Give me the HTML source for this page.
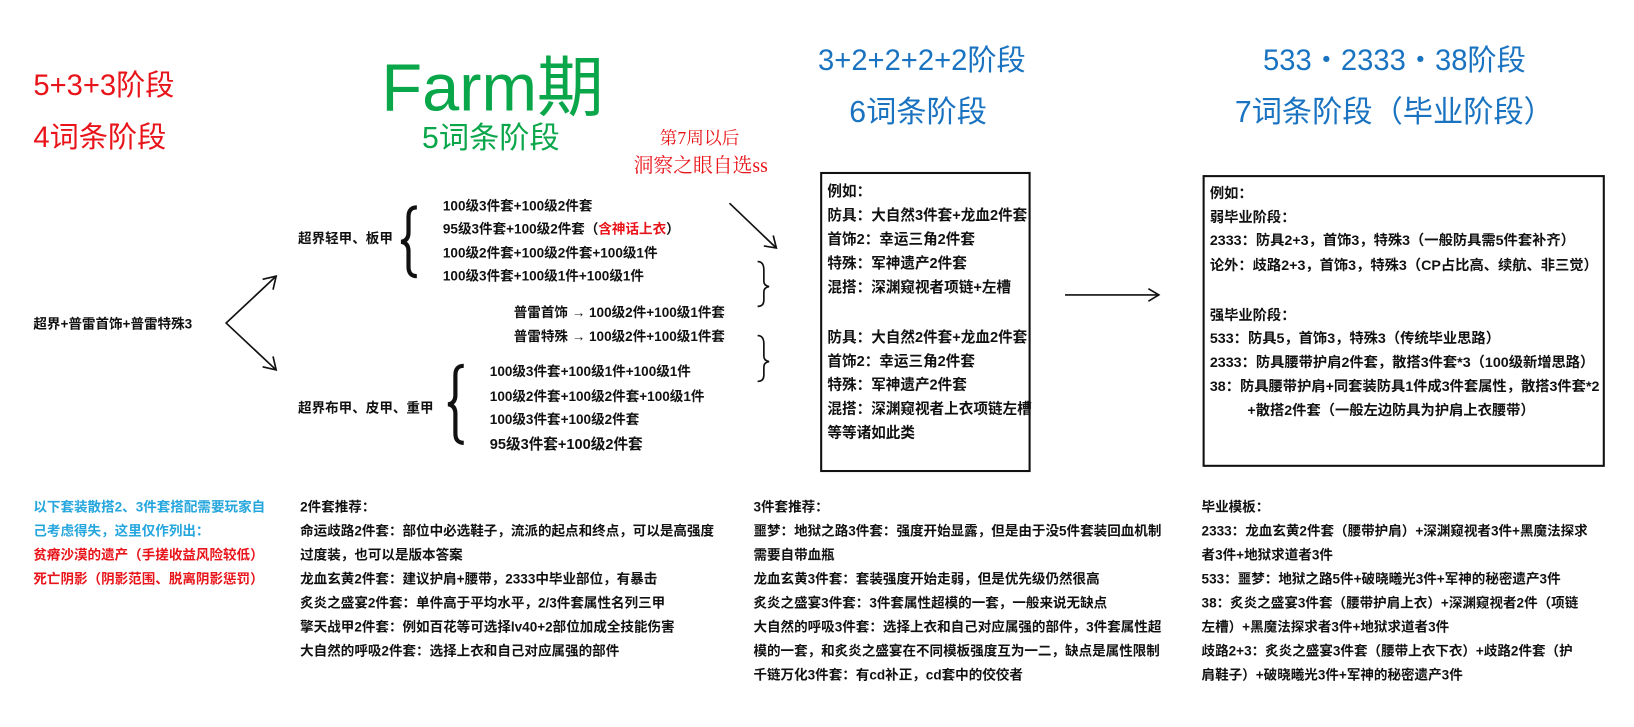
<!DOCTYPE html>
<html><head><meta charset="utf-8"><style>
body{margin:0;width:1634px;height:727px;background:#fff;position:relative;overflow:hidden;font-family:"Liberation Sans","Noto Sans CJK SC",sans-serif;}
#w{position:absolute;left:0;top:0;width:1568px;height:698px;transform:scale(1.0421);transform-origin:0 0;}
.t{position:absolute;white-space:nowrap;line-height:1;}
.s{font-size:13px;font-weight:bold;color:#111;}
.b1{font-size:14px}
.b2{font-size:13.7px}
.r{color:#e8141a}.g{color:#0aa64a}.b{color:#1a73c0}.cy{color:#25a6dd}
.box{position:absolute;border:2px solid #111;}
</style></head><body><div id="w">
<div class="t r" style="left:32px;top:68px;font-size:28px">5+3+3阶段</div>
<div class="t r" style="left:32px;top:118px;font-size:28px">4词条阶段</div>
<div class="t g" style="left:366px;top:52px;font-size:64px">Farm期</div>
<div class="t g" style="left:405px;top:119px;font-size:29px">5词条阶段</div>
<div class="t r" style="left:633px;top:124px;font-size:17px;font-family:'Liberation Serif','Noto Serif CJK SC',serif">第7周以后</div>
<div class="t r" style="left:608px;top:150px;font-size:19px;font-family:'Liberation Serif','Noto Serif CJK SC',serif">洞察之眼自选ss</div>
<div class="t b" style="left:785px;top:44px;font-size:28px">3+2+2+2+2阶段</div>
<div class="t b" style="left:815px;top:94px;font-size:29px">6词条阶段</div>
<div class="t b" style="left:1212px;top:44px;font-size:28px">533・2333・38阶段</div>
<div class="t b" style="left:1185px;top:94px;font-size:29px">7词条阶段（毕业阶段）</div>

<svg style="position:absolute;left:0;top:0" width="1568" height="698">
<g stroke="#111" stroke-width="1.6" fill="none">
<polyline points="265,265 217,310 265,355"/>
<polyline points="252,268 265,265 262,278"/>
<polyline points="252,352 265,355 262,342"/>
<line x1="700" y1="195" x2="745" y2="238"/>
<polyline points="733,236 745,238 742,226"/>
<line x1="1022" y1="283" x2="1112" y2="283"/>
<polyline points="1102,277 1112,283 1102,289"/>
<path d="M727,251 q6,0 6,8 v11 q0,4 5,5 q-5,1 -5,5 v8 q0,6 -6,6"/>
<path d="M727,322 q6,0 6,8 v12 q0,4 5,5 q-5,1 -5,5 v8 q0,6 -6,6"/>
</g>
<g fill="none" stroke="#111" stroke-width="4">
<path d="M400,199 q-8,0 -8,9 v15 q0,8 -7,9 q7,1 7,9 v15 q0,9 8,9"/>
<path d="M445,351 q-8,0 -8,9 v19 q0,8 -7,9 q7,1 7,9 v19 q0,9 8,9"/>
</g>
</svg>

<div class="t s" style="left:32px;top:304px">超界+普雷首饰+普雷特殊3</div>
<div class="t s" style="left:286px;top:222px">超界轻甲、板甲</div>
<div class="t s" style="left:425px;top:191px">100级3件套+100级2件套</div>
<div class="t s" style="left:425px;top:213px">95级3件套+100级2件套（<span class="r">含神话上衣</span>）</div>
<div class="t s" style="left:425px;top:236px">100级2件套+100级2件套+100级1件</div>
<div class="t s" style="left:425px;top:258px">100级3件套+100级1件+100级1件</div>
<div class="t s" style="left:493px;top:293px">普雷首饰 → 100级2件+100级1件套</div>
<div class="t s" style="left:493px;top:316px">普雷特殊 → 100级2件+100级1件套</div>
<div class="t s" style="left:286px;top:385px">超界布甲、皮甲、重甲</div>
<div class="t s" style="left:470px;top:350px">100级3件套+100级1件+100级1件</div>
<div class="t s" style="left:470px;top:374px">100级2件套+100级2件套+100级1件</div>
<div class="t s" style="left:470px;top:396px">100级3件套+100级2件套</div>
<div class="t s" style="left:470px;top:419px;font-size:14px">95级3件套+100级2件套</div>

<div class="box" style="left:787px;top:165px;width:198px;height:284px"></div>
<div class="t s b1" style="left:794px;top:176px">例如：</div>
<div class="t s b1" style="left:794px;top:199px">防具：大自然3件套+龙血2件套</div>
<div class="t s b1" style="left:794px;top:222px">首饰2：幸运三角2件套</div>
<div class="t s b1" style="left:794px;top:245px">特殊：军神遗产2件套</div>
<div class="t s b1" style="left:794px;top:268px">混搭：深渊窥视者项链+左槽</div>
<div class="t s b1" style="left:794px;top:316px">防具：大自然2件套+龙血2件套</div>
<div class="t s b1" style="left:794px;top:339px">首饰2：幸运三角2件套</div>
<div class="t s b1" style="left:794px;top:362px">特殊：军神遗产2件套</div>
<div class="t s b1" style="left:794px;top:385px">混搭：深渊窥视者上衣项链左槽</div>
<div class="t s b1" style="left:794px;top:408px">等等诸如此类</div>

<div class="box" style="left:1154px;top:168px;width:382px;height:276px"></div>
<div class="t s b2" style="left:1161px;top:179px">例如：</div>
<div class="t s b2" style="left:1161px;top:202px">弱毕业阶段：</div>
<div class="t s b2" style="left:1161px;top:224px">2333：防具2+3，首饰3，特殊3（一般防具需5件套补齐）</div>
<div class="t s b2" style="left:1161px;top:248px">论外：歧路2+3，首饰3，特殊3（CP占比高、续航、非三觉）</div>
<div class="t s b2" style="left:1161px;top:296px">强毕业阶段：</div>
<div class="t s b2" style="left:1161px;top:318px">533：防具5，首饰3，特殊3（传统毕业思路）</div>
<div class="t s b2" style="left:1161px;top:341px">2333：防具腰带护肩2件套，散搭3件套*3（100级新增思路）</div>
<div class="t s b2" style="left:1161px;top:364px">38：防具腰带护肩+同套装防具1件成3件套属性，散搭3件套*2</div>
<div class="t s b2" style="left:1197px;top:387px">+散搭2件套（一般左边防具为护肩上衣腰带）</div>

<div class="t s cy" style="left:32px;top:480px">以下套装散搭2、3件套搭配需要玩家自</div>
<div class="t s cy" style="left:32px;top:503px">己考虑得失，这里仅作列出：</div>
<div class="t s r" style="left:32px;top:526px">贫瘠沙漠的遗产（手搓收益风险较低）</div>
<div class="t s r" style="left:32px;top:549px">死亡阴影（阴影范围、脱离阴影惩罚）</div>

<div class="t s" style="left:288px;top:480px">2件套推荐：</div>
<div class="t s" style="left:288px;top:503px">命运歧路2件套：部位中必选鞋子，流派的起点和终点，可以是高强度</div>
<div class="t s" style="left:288px;top:526px">过度装，也可以是版本答案</div>
<div class="t s" style="left:288px;top:549px">龙血玄黄2件套：建议护肩+腰带，2333中毕业部位，有暴击</div>
<div class="t s" style="left:288px;top:572px">炙炎之盛宴2件套：单件高于平均水平，2/3件套属性名列三甲</div>
<div class="t s" style="left:288px;top:595px">擎天战甲2件套：例如百花等可选择lv40+2部位加成全技能伤害</div>
<div class="t s" style="left:288px;top:618px">大自然的呼吸2件套：选择上衣和自己对应属强的部件</div>

<div class="t s" style="left:723px;top:480px">3件套推荐：</div>
<div class="t s" style="left:723px;top:503px">噩梦：地狱之路3件套：强度开始显露，但是由于没5件套装回血机制</div>
<div class="t s" style="left:723px;top:526px">需要自带血瓶</div>
<div class="t s" style="left:723px;top:549px">龙血玄黄3件套：套装强度开始走弱，但是优先级仍然很高</div>
<div class="t s" style="left:723px;top:572px">炙炎之盛宴3件套：3件套属性超模的一套，一般来说无缺点</div>
<div class="t s" style="left:723px;top:595px">大自然的呼吸3件套：选择上衣和自己对应属强的部件，3件套属性超</div>
<div class="t s" style="left:723px;top:618px">模的一套，和炙炎之盛宴在不同模板强度互为一二，缺点是属性限制</div>
<div class="t s" style="left:723px;top:641px">千链万化3件套：有cd补正，cd套中的佼佼者</div>

<div class="t s" style="left:1153px;top:480px">毕业模板：</div>
<div class="t s" style="left:1153px;top:503px">2333：龙血玄黄2件套（腰带护肩）+深渊窥视者3件+黑魔法探求</div>
<div class="t s" style="left:1153px;top:526px">者3件+地狱求道者3件</div>
<div class="t s" style="left:1153px;top:549px">533：噩梦：地狱之路5件+破晓曦光3件+军神的秘密遗产3件</div>
<div class="t s" style="left:1153px;top:572px">38：炙炎之盛宴3件套（腰带护肩上衣）+深渊窥视者2件（项链</div>
<div class="t s" style="left:1153px;top:595px">左槽）+黑魔法探求者3件+地狱求道者3件</div>
<div class="t s" style="left:1153px;top:618px">歧路2+3：炙炎之盛宴3件套（腰带上衣下衣）+歧路2件套（护</div>
<div class="t s" style="left:1153px;top:641px">肩鞋子）+破晓曦光3件+军神的秘密遗产3件</div>
</div></body></html>
